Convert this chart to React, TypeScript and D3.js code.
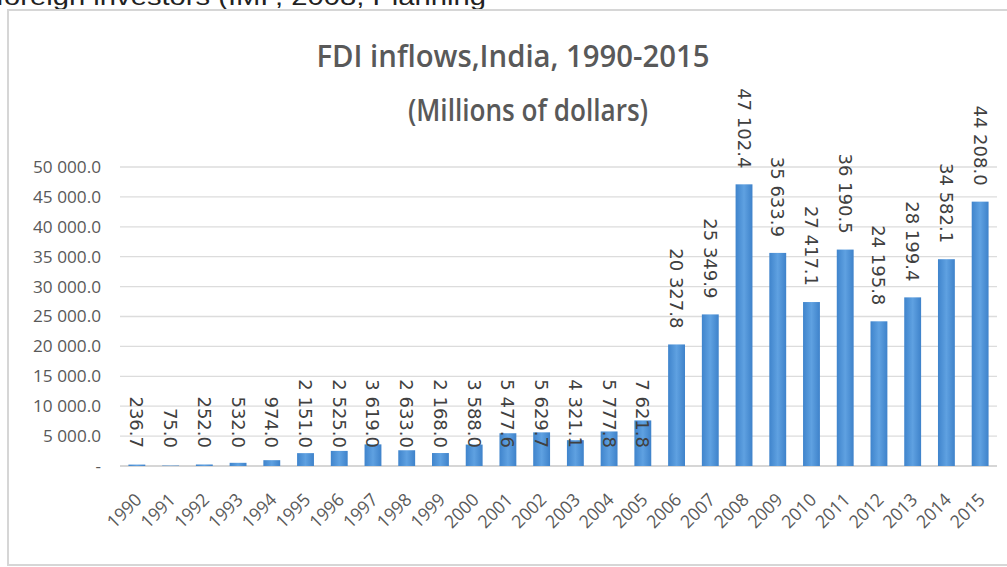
import React from "react";
import * as d3 from "d3";

const years = ["1990","1991","1992","1993","1994","1995","1996","1997","1998","1999","2000","2001","2002","2003","2004","2005","2006","2007","2008","2009","2010","2011","2012","2013","2014","2015"];
const fdi = [236.7,75.0,252.0,532.0,974.0,2151.0,2525.0,3619.0,2633.0,2168.0,3588.0,5477.6,5629.7,4321.1,5777.8,7621.8,20327.8,25349.9,47102.4,35633.9,27417.1,36190.5,24195.8,28199.4,34582.1,44208.0];
const yTicks = [0,5000,10000,15000,20000,25000,30000,35000,40000,45000,50000];
const titleLines = ["FDI inflows,India, 1990-2015", "(Millions of dollars)"];
const pageText = "foreign investors (IMF, 2008; Planning";

const W = 1007, H = 567;
const fmt = (v: number) => d3.format(",.1f")(v).replace(/,/g, " ");

export default function App() {
  const x = d3.scaleBand<string>().domain(years).range([120, 997]).paddingInner(0.5).paddingOuter(0.25);
  const y = d3.scaleLinear().domain([0, 50000]).range([466, 167]);
  const y0 = y(0);
  return (
    <svg width={W} height={H} style={{ position: "absolute", left: 0, top: 0, background: "#fff" }}>
      <defs>
        <linearGradient id="barg" x1="0" x2="1" y1="0" y2="0">
          <stop offset="0%" stopColor="#3f84cc" />
          <stop offset="50%" stopColor="#5fa1e1" />
          <stop offset="100%" stopColor="#3e82ca" />
        </linearGradient>
      </defs>
      <text x={-4} y={5} fontFamily="Liberation Sans, Arial, sans-serif" fontSize={24} fill="#222" textLength={490} lengthAdjust="spacingAndGlyphs">{pageText}</text>
      <rect x={8} y={10} width={1010} height={555} fill="#fff" stroke="#d6d6d6" strokeWidth={2} />
      <text x={513} y={67} textAnchor="middle" fontFamily="Open Sans, sans-serif" fontWeight={600} fontSize={30} fill="#595959" textLength={393} lengthAdjust="spacingAndGlyphs">{titleLines[0]}</text>
      <text x={528} y={121} textAnchor="middle" fontFamily="Open Sans, sans-serif" fontWeight={600} fontSize={30} fill="#595959" textLength={240} lengthAdjust="spacingAndGlyphs">{titleLines[1]}</text>
      {yTicks.map((t) => (
        <g key={t}>
          <line x1={120} x2={997} y1={y(t)} y2={y(t)} stroke={t === 0 ? "#c8c8c8" : "#dcdcdc"} strokeWidth={1.3} />
          <text x={101} y={y(t)} dy="0.35em" textAnchor="end" fontFamily="Open Sans, sans-serif" fontSize={17} fill="#595959" textLength={t === 0 ? undefined : (t >= 10000 ? 68 : 58)} lengthAdjust="spacingAndGlyphs">{t === 0 ? "-" : fmt(t)}</text>
        </g>
      ))}
      {fdi.map((v, i) => {
        const yr = years[i];
        const bx = x(yr)!;
        const bw = x.bandwidth();
        const cx = bx + bw / 2;
        const yEnd = i < 16 ? y0 - 18 : y(v) - 16;
        return (
          <g key={yr}>
            <rect x={bx} y={y(v)} width={bw} height={y0 - y(v)} fill="url(#barg)" />
            <text transform={`translate(${cx},${yEnd}) rotate(90)`} textAnchor="end" dominantBaseline="central" fontFamily="DejaVu Sans, sans-serif" fontSize={18} fill="#404040">{fmt(v)}</text>
            <text transform={`translate(${cx + 6},${501}) rotate(-45)`} textAnchor="end" fontFamily="Open Sans, sans-serif" fontSize={18} fill="#595959" textLength={40} lengthAdjust="spacingAndGlyphs">{yr}</text>
          </g>
        );
      })}
    </svg>
  );
}
